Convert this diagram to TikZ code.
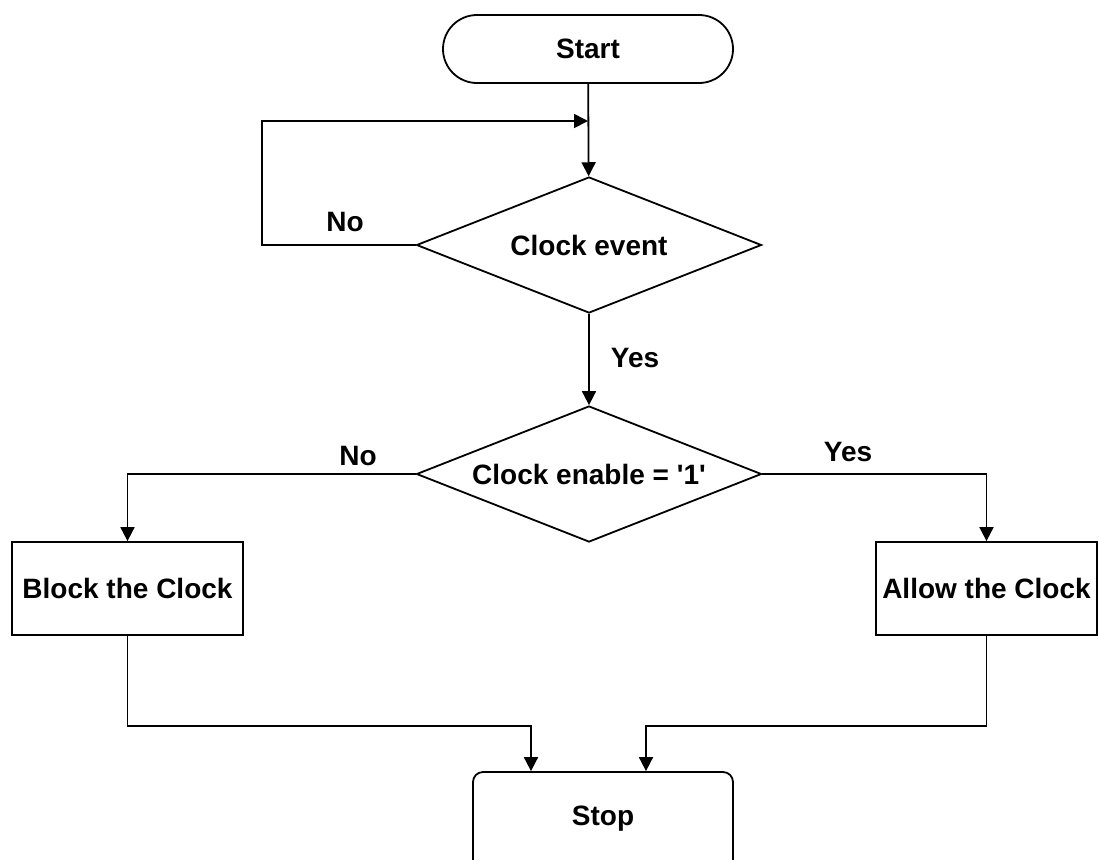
\documentclass[tikz,border=0pt]{standalone}
\usepackage{fontspec}
\setmainfont{Liberation Sans}[Ligatures=TeXOff]
\usetikzlibrary{shapes.geometric,arrows.meta}

\begin{document}
\begin{tikzpicture}[x=0.5pt,y=-0.5pt,
    every node/.style={font=\fontsize{14}{16}\selectfont\bfseries},
    terminal/.style={draw, rectangle, rounded corners=17pt, minimum width=145pt, minimum height=34pt, inner sep=0pt},
    stopbox/.style={draw, rectangle, rounded corners=5pt, minimum width=130pt, minimum height=52pt, text depth=8pt, inner sep=0pt},
    decision/.style={draw, diamond, aspect=2.5, minimum width=172.5pt, minimum height=68pt, inner sep=0pt},
    process/.style={draw, rectangle, minimum height=46.5pt, inner sep=0pt},
    flow/.style={-{Triangle[length=7pt,width=7pt]}},
    line width=0.9pt]
    \useasboundingbox (0,0) rectangle (1099,859);
    \node[terminal] (start) at (588,49) {Start};
    \node[decision] (clk) at (589,245) {Clock event};
    \node[decision] (en) at (589,474) {Clock enable = '1'};
    \node[process, minimum width=115.5pt] (block) at (127.5,588.5) {Block the Clock};
    \node[process, minimum width=110.5pt] (allow) at (986.5,588.5) {Allow the Clock};
    \node[stopbox] (stop) at (603,824) {Stop};
    %% joints of the connectors
    \coordinate (loop) at (262,121);
    \coordinate (back) at (588,121);
    \coordinate (jl) at (531,726);
    \coordinate (jr) at (646,726);
    \draw[flow] (start) -- (clk);
    \draw[flow] (clk.west) -| (loop) -- (back);
    \draw[flow] (clk) -- (en);
    \draw[flow] (en.west) -| (block.north);
    \draw[flow] (en.east) -| (allow.north);
    \draw[flow] (block.south) |- (jl) -- (jl |- stop.north);
    \draw[flow] (allow.south) |- (jr) -- (jr |- stop.north);
    \node (no1) at (345,222) {No};
    \node (yes1) at (635,358) {Yes};
    \node (no2) at (358,456) {No};
    \node (yes2) at (848,452) {Yes};
\end{tikzpicture}
\end{document}
